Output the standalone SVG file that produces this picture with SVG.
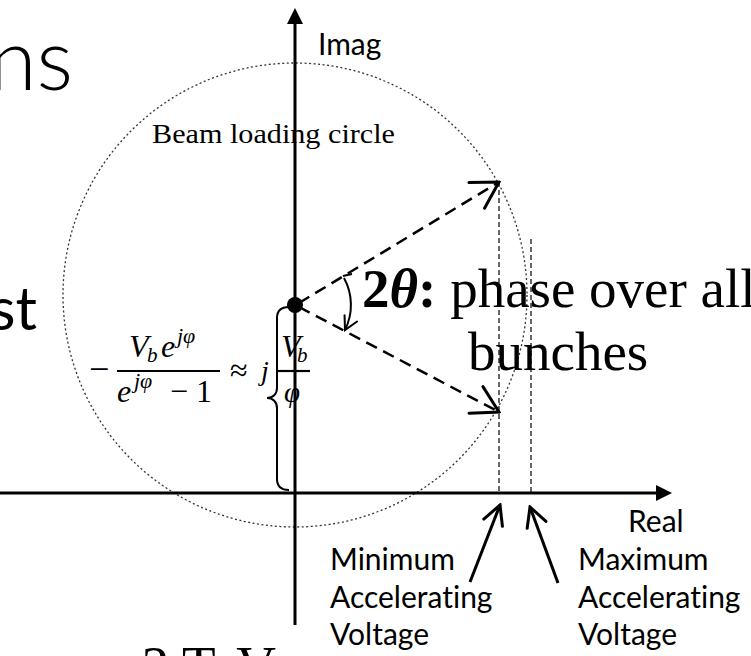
<svg xmlns="http://www.w3.org/2000/svg" width="751" height="656" viewBox="0 0 751 656">
<style>
.sans{font-family:Lato,"Open Sans","Liberation Sans",sans-serif;fill:#000;font-variant-ligatures:none}
.serif{font-family:"Liberation Serif","DejaVu Serif",serif;fill:#000}
.lbl{font-size:30px}
.it{font-style:italic}
.axis{stroke:#000;stroke-width:3;fill:none}
.vec{stroke:#000;stroke-width:2.5;stroke-dasharray:12 7;fill:none}
.arr{stroke:#000;stroke-width:3;fill:none}
.thin{stroke:#000;stroke-width:2;fill:none}
.guide{stroke:#000;stroke-width:1.2;stroke-dasharray:5 3;fill:none}
.circ{stroke:#333;stroke-width:1.3;stroke-dasharray:2 2.5;fill:none}
.bar{stroke:#000;stroke-width:2.2}
</style>
<defs>
<marker id="tri" viewBox="0 0 16 16" refX="0" refY="8" markerWidth="16" markerHeight="16" markerUnits="userSpaceOnUse" orient="auto"><path d="M0,0 L16,8 L0,16 Z" fill="#000"/></marker>
<marker id="open" viewBox="0 0 32 36" refX="30" refY="18" markerWidth="32" markerHeight="36" markerUnits="userSpaceOnUse" orient="auto"><path d="M4,3 L30,18 L4,33" fill="none" stroke="#000" stroke-width="3" stroke-linecap="round"/></marker>
<marker id="open2" viewBox="0 0 24 24" refX="22" refY="12" markerWidth="24" markerHeight="24" markerUnits="userSpaceOnUse" orient="auto"><path d="M3,2 L22,12 L3,22" fill="none" stroke="#000" stroke-width="3" stroke-linecap="round"/></marker>
<marker id="open3" viewBox="0 0 18 18" refX="16" refY="9" markerWidth="18" markerHeight="18" markerUnits="userSpaceOnUse" orient="auto"><path d="M3,2 L16,9 L3,16" fill="none" stroke="#000" stroke-width="2" stroke-linecap="round"/></marker>
</defs>

<g id="slide-text">
<text class="sans" x="73" y="90" text-anchor="end" font-size="86" font-weight="300">ns</text>
<text class="sans" x="37" y="330" text-anchor="end" font-size="60">st</text>
<text class="serif" x="276" y="684" text-anchor="end" font-size="55">2 TeV</text>
</g>

<g id="beam-loading-circle">
<circle class="circ" cx="295" cy="295" r="232"/>
<text class="serif" x="152" y="143" font-size="27" textLength="243" lengthAdjust="spacingAndGlyphs">Beam loading circle</text>
</g>

<g id="connectors">
<line class="axis" x1="295" y1="625" x2="295" y2="24" marker-end="url(#tri)"/>
<line class="axis" x1="0" y1="493" x2="656" y2="493" marker-end="url(#tri)"/>
<line class="vec" x1="299" y1="303" x2="499" y2="182" marker-end="url(#open)"/>
<line class="vec" x1="299" y1="307" x2="499" y2="412" marker-end="url(#open)"/>
<line class="guide" x1="499" y1="182" x2="499" y2="493"/>
<line class="guide" x1="531" y1="239" x2="531" y2="493"/>
<path class="thin" d="M344,278 A56,56 0 0 1 345,330" marker-end="url(#open3)"/>
<line class="thin" x1="343" y1="276" x2="352" y2="274"/>
<line class="arr" x1="470" y1="582" x2="500" y2="505" marker-end="url(#open2)"/>
<line class="arr" x1="558" y1="583" x2="530" y2="507" marker-end="url(#open2)"/>
<path class="thin" stroke-width="2.5" d="M289,307 C281,307 277,311 277,318 L277,388 C277,394 273,398 267,398 C273,398 277,402 277,408 L277,479 C277,486 281,490 289,490"/>
</g>

<g id="origin">
<circle cx="295" cy="305" r="8" fill="#000"/>
</g>

<g id="axis-labels">
<text class="sans lbl" x="318" y="55">Imag</text>
<text class="sans lbl" x="628" y="532">Real</text>
</g>

<g id="formula" class="serif it">
<text x="89" y="381" font-size="36" font-style="normal">−</text>
<text x="129" y="357" font-size="32">V</text>
<text x="147" y="362" font-size="21">b</text>
<text x="161" y="357" font-size="32">e</text>
<text x="177" y="343" font-size="22">jφ</text>
<line class="bar" x1="117" y1="371" x2="220" y2="371"/>
<text x="117" y="402" font-size="32">e</text>
<text x="134" y="388" font-size="22">jφ</text>
<text x="170" y="402" font-size="32" font-style="normal">− 1</text>
<text x="230" y="381" font-size="32" font-style="normal">≈</text>
<text x="261" y="380" font-size="28">j</text>
<text x="281" y="357" font-size="32">V</text>
<text x="297" y="362" font-size="21">b</text>
<line class="bar" x1="278" y1="371" x2="310" y2="371"/>
<text x="284" y="402" font-size="29">φ</text>
</g>

<g id="phase-label" class="serif" font-size="55">
<text x="362" y="307"><tspan font-weight="bold">2</tspan><tspan font-weight="bold" font-style="italic">θ</tspan><tspan font-weight="bold">:</tspan> phase over all</text>
<text x="468" y="370">bunches</text>
</g>

<g id="min-label" class="sans lbl">
<text x="330" y="570">Minimum</text>
<text x="330" y="608">Accelerating</text>
<text x="330" y="645">Voltage</text>
</g>

<g id="max-label" class="sans lbl">
<text x="578" y="570">Maximum</text>
<text x="578" y="608">Accelerating</text>
<text x="578" y="645">Voltage</text>
</g>
</svg>
